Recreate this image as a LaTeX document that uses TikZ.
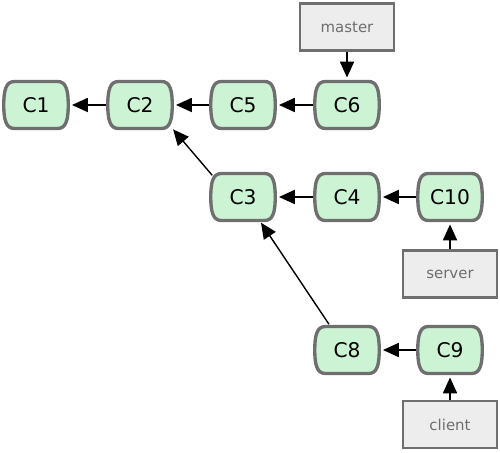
\documentclass[tikz,border=0pt]{standalone}
\usepackage{fontspec}
\setmainfont{DejaVu Sans}
\usepackage{tikz}
\usetikzlibrary{positioning, arrows.meta}

\definecolor{commitfill}{HTML}{CDF3D5}
\definecolor{edgegray}{HTML}{6F6F6F}
\definecolor{reffill}{HTML}{EDEDED}
\definecolor{reftext}{HTML}{6E6E6E}

% barrel shaped commit: name, position, text
\newcommand{\gitcommit}[3]{%
  \draw[shift={(#2)}, draw=edgegray, fill=commitfill, line width=1.9pt]
    (-0.43,0.47) -- (0.43,0.47)
    .. controls (0.6,0.47) and (0.645,0.3) .. (0.645,0)
    .. controls (0.645,-0.3) and (0.6,-0.47) .. (0.43,-0.47)
    -- (-0.43,-0.47)
    .. controls (-0.6,-0.47) and (-0.645,-0.3) .. (-0.645,0)
    .. controls (-0.645,0.3) and (-0.6,0.47) .. cycle;
  \node[commit] (#1) at (#2) {#3};
}

\begin{document}
\begin{tikzpicture}
        [commit/.style={minimum width=1.34cm, minimum height=1.0cm, inner sep=0pt,
                        font=\fontsize{11.5}{13}\selectfont},
         ref/.style={draw=edgegray, fill=reffill, line width=1.6pt,
                     minimum width=1.88cm, minimum height=0.94cm, inner sep=0pt,
                     text=reftext, font=\fontsize{8.5}{10}\selectfont},
         >={Triangle[length=9pt, width=8pt]}, line width=0.8pt]
        \useasboundingbox (0,0) rectangle (10,9.04);

        \gitcommit{C1}{0.72, 6.94}{C1}
        \gitcommit{C2}{2.80, 6.94}{C2}
        \gitcommit{C5}{4.86, 6.94}{C5}
        \gitcommit{C6}{6.94, 6.94}{C6}
        \gitcommit{C3}{4.86, 5.10}{C3}
        \gitcommit{C4}{6.94, 5.10}{C4}
        \gitcommit{C10}{9.00, 5.10}{C10}
        \gitcommit{C8}{6.94, 2.04}{C8}
        \gitcommit{C9}{9.00, 2.04}{C9}

        \node[ref] (master) at (6.94, 8.50) {master};
        \node[ref] (server) at (9.00, 3.56) {server};
        \node[ref] (client) at (9.00, 0.55) {client};

        \path [->] (C2) edge[shorten >=1pt] (C1);
        \path [->] (C5) edge[shorten >=1pt] (C2);
        \path [->] (C6) edge[shorten >=1pt] (C5);
        \path [->] (C4) edge[shorten >=1pt] (C3);
        \path [->] (C10) edge[shorten >=1pt] (C4);
        \path [->] (C9) edge[shorten >=1pt] (C8);
        \path [->] (C3.north west) edge[shorten <=-3pt, shorten >=-1pt] (C2.south east);
        \path [->] (C8.125) edge (C3.305);
        \path [->] (master) edge[shorten >=1pt] (C6);
        \path [->] (server) edge[shorten >=1pt] (C10);
        \path [->] (client) edge[shorten >=1pt] (C9);
    \end{tikzpicture}
\end{document}
